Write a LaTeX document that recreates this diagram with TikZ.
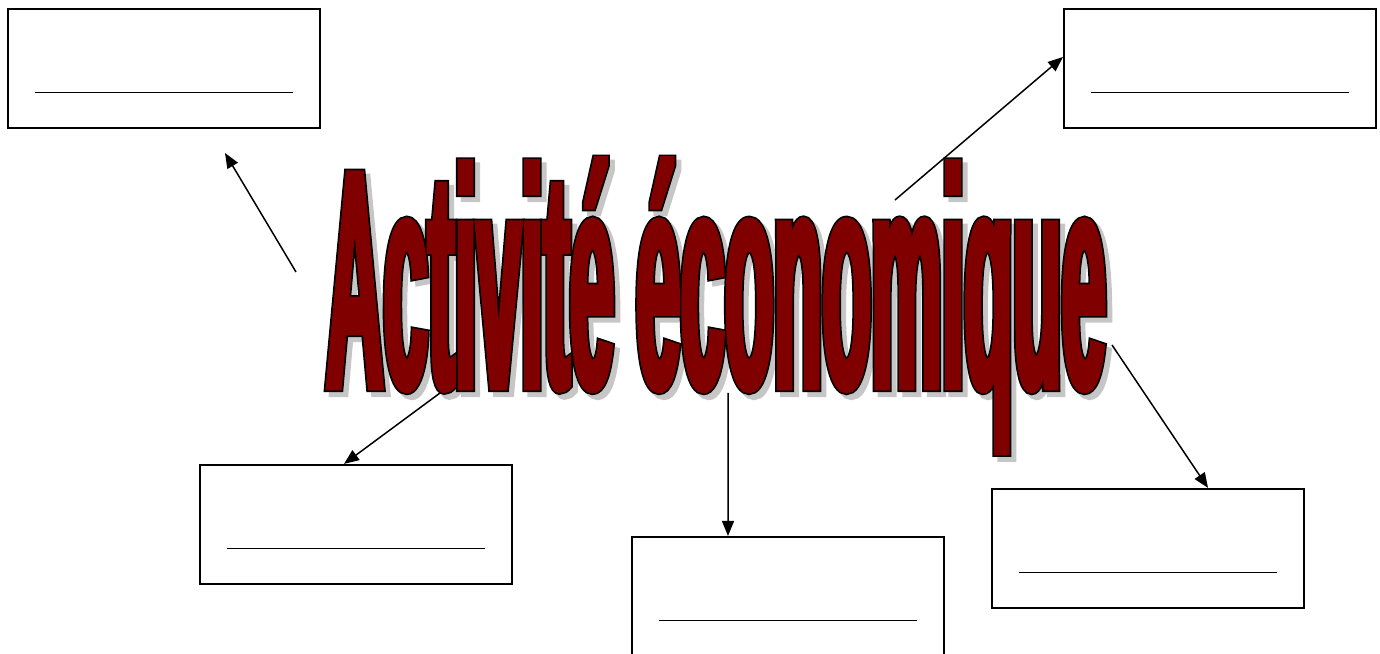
\documentclass[tikz,border=0pt]{standalone}
\usepackage{fontspec}
\usetikzlibrary{arrows.meta}
\newfontfamily\artedge{Liberation Sans}[UprightFont={* Bold}, FakeStretch=0.255, FakeBold=2.6]
\newfontfamily\artfill{Liberation Sans}[UprightFont={* Bold}, FakeStretch=0.255, FakeBold=1.5]
\definecolor{wordred}{RGB}{128,0,0}

\begin{document}
\begin{tikzpicture}[->, >={Triangle[length=0.3cm, width=0.24cm]}, line width=0.85pt,
    box/.style={rectangle, draw, line width=1.2pt, minimum width=6.24cm, minimum height=2.38cm},
    word/.style={inner sep=0pt, anchor=base, font=\fontsize{178}{178}\selectfont}]

    \useasboundingbox (0,0) rectangle (27.6,13.08);

    \node[box] (tl) at (3.28,11.71) {};
    \node[box] (tr) at (24.40,11.71) {};
    \node[box] (bl) at (7.12,2.59) {};
    \node[box] (bm) at (15.76,1.15) {};
    \node[box] (br) at (22.96,2.11) {};

    \foreach \b in {tl,tr,bl,bm,br}
        \draw[-, line width=0.6pt] ([xshift=0.56cm, yshift=0.74cm]\b.south west) -- ([xshift=-0.56cm, yshift=0.74cm]\b.south east);

    \node[word, text=gray!45] at (14.42,5.22) {\artedge Activité économique};
    \node[word, text=black] at (14.32,5.32) {\artedge Activité économique};
    \node[word, text=wordred] (title) at (14.32,5.32) {\artfill Activité économique};

    \coordinate (s1) at (5.92,7.64);
    \coordinate (e1) at (4.50,10.02);
    \coordinate (s2) at (17.90,9.08);
    \coordinate (s3) at (8.80,5.22);
    \coordinate (s4) at (14.56,5.22);
    \coordinate (s5) at (22.24,6.18);
\path
        (s1) edge (e1)
        (s2) edge ([yshift=0.23cm]tr.west)
        (s3) edge ([xshift=-0.24cm]bl.north)
        (s4) edge ([xshift=-1.2cm]bm.north)
        (s5) edge ([xshift=1.2cm]br.north)
;
\end{tikzpicture}
\end{document}
